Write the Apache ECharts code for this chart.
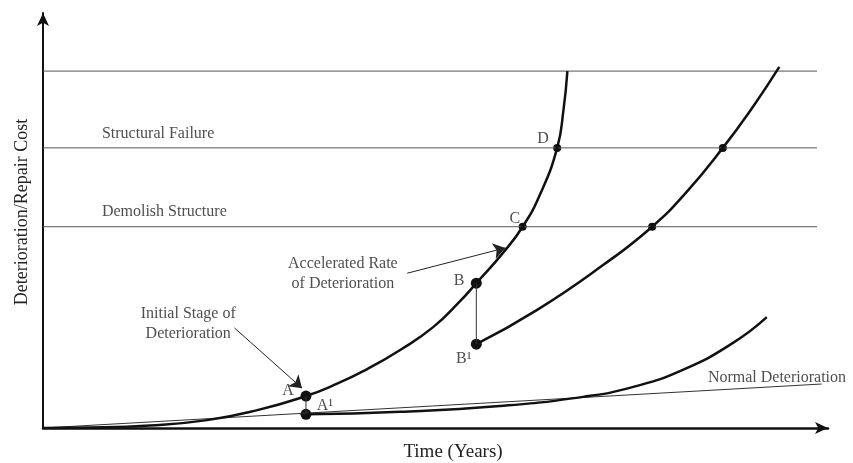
<!DOCTYPE html>
<html>
<head>
<meta charset="utf-8">
<script src="https://cdn.jsdelivr.net/npm/echarts@6/dist/echarts.min.js"></script>
<style>
  html, body { margin: 0; padding: 0; background: #fff; }
  #chart { width: 853px; height: 463px; }
</style>
</head>
<body>
<div id="chart"></div>
<script>
// time 0..100, cost 0..100 (arbitrary units)
const thresholdLevels = [48.5, 67.5, 86]
const thresholdEnd = 98.6

const acceleratedCurve = [
  [0, 0], [6, 0.1], [13.6, 0.6], [20.9, 1.9], [27.3, 4.3], [33.5, 7.7],
  [36.9, 10.2], [41.3, 14.2], [45.5, 18.8], [49.7, 24.3], [53.1, 30.5],
  [55.2, 34.9], [58.6, 42.2], [61.1, 48.5], [63.3, 56.2], [65.5, 67.5],
  [66.3, 76.6], [66.8, 86]
]
const repairedCurve = [
  [55.2, 20.2], [62.9, 28.4], [71.3, 39.2], [77.6, 48.5], [82.0, 56.9],
  [86.6, 67.5], [90.4, 77.3], [93.8, 87.0]
]
const maintainedCurve = [
  [33.5, 3.3], [45.5, 3.9], [58.2, 5.3], [68.8, 7.5], [75.2, 9.9],
  [81.5, 14.0], [87.9, 20.5], [92.2, 26.7]
]
const normalLine = [[0, 0], [99.2, 10.6]]

const repairA = [[33.5, 7.7], [33.5, 3.3]]
const repairB = [[55.2, 34.9], [55.2, 20.2]]
const bigDots = [[33.5, 7.7], [33.5, 3.3], [55.2, 34.9], [55.2, 20.2]]
const smallDots = [[61.1, 48.5], [65.5, 67.5], [77.6, 48.5], [86.6, 67.5]]

const arrows = [
  [[24.4, 24.1], [33.0, 9.6]],
  [[46.4, 37.3], [58.9, 43.4]]
]

const notes = [
  { name: 'Structural Failure', value: [7.5, 71.0], align: 'left' },
  { name: 'Demolish Structure', value: [7.5, 52.0], align: 'left' },
  { name: 'Initial Stage of\nDeterioration', value: [18.5, 25.0], align: 'center' },
  { name: 'Accelerated Rate\nof Deterioration', value: [38.2, 37.2], align: 'center' },
  { name: 'Normal Deterioration', value: [93.5, 12.2], align: 'center' },
  { name: 'A', value: [31.2, 9.0], align: 'center' },
  { name: 'A¹', value: [35.9, 5.3], align: 'center' },
  { name: 'B', value: [53.0, 35.5], align: 'center' },
  { name: 'B¹', value: [53.6, 16.7], align: 'center' },
  { name: 'C', value: [60.1, 50.4], align: 'center' },
  { name: 'D', value: [63.7, 69.7], align: 'center' }
]

const serif = '"Liberation Serif", "DejaVu Serif", serif'

const chart = echarts.init(document.getElementById('chart'))

const thresholdSeries = thresholdLevels.map(v => ({
  type: 'line',
  data: [[0, v], [thresholdEnd, v]],
  symbol: 'none',
  lineStyle: { color: '#555', width: 1 },
  silent: true
}))

const curveStyle = { color: '#111', width: 2.5 }

chart.setOption({
  animation: false,
  backgroundColor: '#fff',
  grid: { left: 43, top: 13, width: 785, bottom: 35, containLabel: false, outerBoundsMode: 'none' },
  xAxis: {
    type: 'value', min: 0, max: 100,
    name: 'Time (Years)', nameLocation: 'middle', nameGap: 15,
    nameTextStyle: { fontFamily: serif, fontSize: 19, color: '#222', padding: [0, 0, 0, 35], verticalAlign: 'top' },
    axisLine: { lineStyle: { color: '#111', width: 2.5 }, symbol: ['none', 'arrow'], symbolSize: [9, 13] },
    axisTick: { show: false }, axisLabel: { show: false }, splitLine: { show: false }
  },
  yAxis: {
    type: 'value', min: 0, max: 100,
    name: 'Deterioration/Repair Cost', nameLocation: 'middle', nameGap: 12,
    nameTextStyle: { fontFamily: serif, fontSize: 18, color: '#222', padding: [0, 0, 0, 17] },
    axisLine: { lineStyle: { color: '#111', width: 2 }, symbol: ['none', 'arrow'], symbolSize: [9, 13] },
    axisTick: { show: false }, axisLabel: { show: false }, splitLine: { show: false }
  },
  series: [
    ...thresholdSeries,
    {
      type: 'line', data: normalLine, symbol: 'none',
      lineStyle: { color: '#333', width: 1 }
    },
    { type: 'line', data: acceleratedCurve, symbol: 'none', smooth: 0.5, lineStyle: curveStyle },
    { type: 'line', data: repairedCurve, symbol: 'none', smooth: 0.5, lineStyle: curveStyle },
    { type: 'line', data: maintainedCurve, symbol: 'none', smooth: 0.5, lineStyle: curveStyle },
    { type: 'line', data: repairA, symbol: 'none', lineStyle: { color: '#333', width: 1 } },
    { type: 'line', data: repairB, symbol: 'none', lineStyle: { color: '#333', width: 1 } },
    {
      type: 'lines', coordinateSystem: 'cartesian2d',
      data: arrows.map(a => ({ coords: a })),
      symbol: ['none', 'arrow'], symbolSize: [0, 12],
      lineStyle: { color: '#222', width: 1, opacity: 1 }
    },
    {
      type: 'scatter', data: bigDots, symbolSize: 11,
      itemStyle: { color: '#111', opacity: 1 }
    },
    {
      type: 'scatter', data: smallDots, symbolSize: 8,
      itemStyle: { color: '#111', opacity: 1 }
    },
    {
      type: 'scatter', symbolSize: 0,
      data: notes.map(n => ({
        name: n.name, value: n.value,
        label: {
          show: true,
          formatter: '{b}',
          position: n.align === 'left' ? 'right' : 'inside',
          distance: 0,
          align: n.align,
          verticalAlign: 'middle',
          fontFamily: serif,
          fontSize: 16,
          lineHeight: 20,
          color: '#222'
        }
      }))
    }
  ]
})
</script>
</body>
</html>
